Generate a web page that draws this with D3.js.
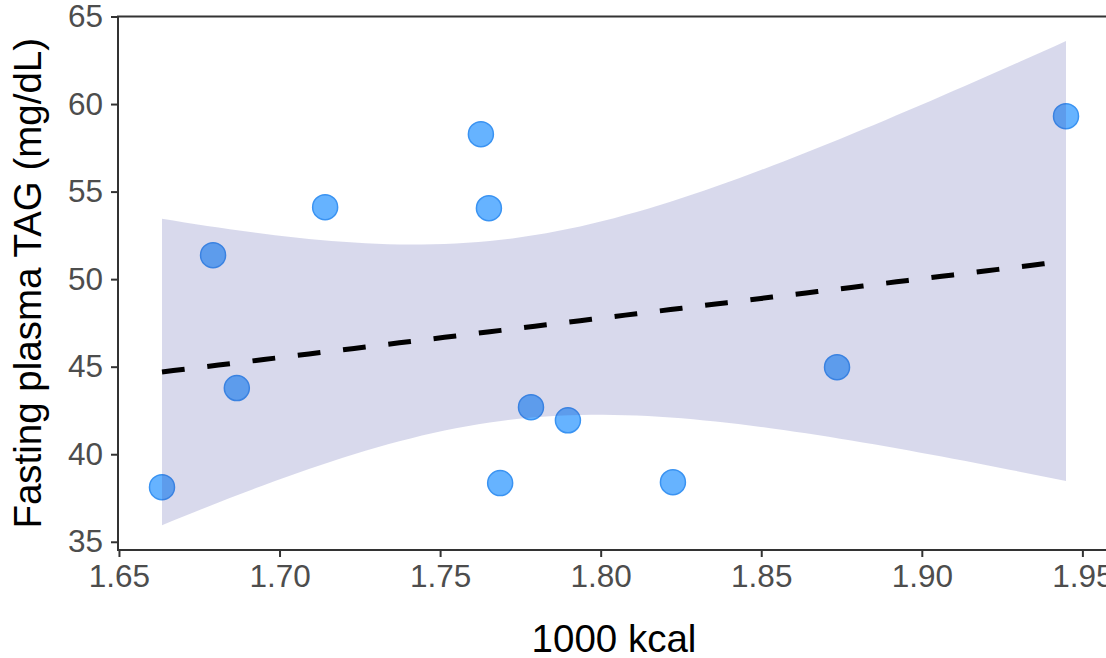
<!DOCTYPE html>
<html>
<head>
<meta charset="utf-8">
<script src="https://cdn.jsdelivr.net/npm/d3@7"></script>
<style>
  html, body { margin: 0; padding: 0; background: #fff; overflow: hidden; }
  svg { display: block; font-family: "Liberation Sans", Arial, Helvetica, sans-serif; }
</style>
</head>
<body>
<script>
/*** Data ***/
kcal = [1.6634, 1.6793, 1.6867, 1.7142, 1.7627, 1.7652, 1.7687, 1.7783, 1.7898, 1.8225, 1.8736, 1.9449]
tag  = [38.12, 51.37, 43.78, 54.11, 58.28, 54.05, 38.35, 42.69, 41.94, 38.40, 44.97, 59.31]

xTicks = [1.65, 1.70, 1.75, 1.80, 1.85, 1.90, 1.95]
yTicks = [35, 40, 45, 50, 55, 60, 65]

xTitle = '1000 kcal'
yTitle = 'Fasting plasma TAG (mg/dL)'

// t quantile 0.975, df = n - 2 = 10
tCrit = 2.228

/*** Linear fit with 95% CI (as geom_smooth(method = "lm")) ***/
function linearFit(xs, ys){
	let n = xs.length
	let mx = d3.mean(xs)
	let my = d3.mean(ys)
	let sxx = d3.sum(xs, x => (x - mx) * (x - mx))
	let sxy = d3.sum(xs.map((x, i) => (x - mx) * (ys[i] - my)))
	let slope = sxy / sxx
	let icpt = my - slope * mx
	let sse = d3.sum(xs.map((x, i) => {
		let r = ys[i] - (icpt + slope * x)
		return r * r
	}))
	let s = Math.sqrt(sse / (n - 2))

	let lo = d3.min(xs), hi = d3.max(xs)
	let grid = d3.range(0, 81).map(k => lo + (hi - lo) * k / 80)

	return grid.map(x => {
		let fit = icpt + slope * x
		let se = s * Math.sqrt(1 / n + (x - mx) * (x - mx) / sxx)
		return { x: x, fit: fit, lower: fit - tCrit * se, upper: fit + tCrit * se }
	})
}

function renderChart(){
	const w = 1106
	const h = 658
	const padL = 118
	const padR = 1110
	const padT = 16.5
	const padB = 550

	const svg = d3.select('body')
		.append('svg')
		.attr('width', w)
		.attr('height', h)

	const xScale = d3.scaleLinear()
		.domain([1.6497, 1.9586])
		.range([padL, padR])

	const yScale = d3.scaleLinear()
		.domain([34.53, 65])
		.range([padB, padT])

	// Axes
	const xAxis = d3.axisBottom(xScale)
		.tickValues(xTicks)
		.tickFormat(d3.format('.2f'))
		.tickSize(7)
		.tickPadding(8)

	const yAxis = d3.axisLeft(yScale)
		.tickValues(yTicks)
		.tickFormat(d3.format('d'))
		.tickSize(7)
		.tickPadding(8)

	const gx = svg.append('g')
		.attr('transform', `translate(0, ${padB})`)
		.call(xAxis)

	const gy = svg.append('g')
		.attr('transform', `translate(${padL}, 0)`)
		.call(yAxis)

	for (const g of [gx, gy]) {
		g.select('.domain').remove()
		g.selectAll('line').attr('stroke', '#333333').attr('stroke-width', 2)
		g.selectAll('text')
			.attr('fill', '#4d4d4d')
			.style('font-size', '31.5px')
			.style('font-family', '"Liberation Sans", Arial, Helvetica, sans-serif')
	}

	// Points
	svg.append('g')
		.selectAll('circle')
		.data(kcal)
		.enter()
			.append('circle')
			.attr('cx', d => xScale(d))
			.attr('cy', (d, i) => yScale(tag[i]))
			.attr('r', 12.5)
			.attr('fill', '#3399ff')
			.attr('fill-opacity', 0.75)
			.attr('stroke', '#3a93f2')
			.attr('stroke-width', 1.5)

	// Smooth
	const band = linearFit(kcal, tag)

	svg.append('path')
		.datum(band)
		.attr('d', d3.area()
			.x(d => xScale(d.x))
			.y0(d => yScale(d.lower))
			.y1(d => yScale(d.upper)))
		.attr('fill', '#3a42a0')
		.attr('fill-opacity', 0.2)

	svg.append('path')
		.datum(band)
		.attr('d', d3.line()
			.x(d => xScale(d.x))
			.y(d => yScale(d.fit)))
		.attr('fill', 'none')
		.attr('stroke', '#000')
		.attr('stroke-width', 5)
		.attr('stroke-dasharray', '22.8,22.8')

	// Panel border
	svg.append('rect')
		.attr('x', padL)
		.attr('y', padT)
		.attr('width', padR - padL)
		.attr('height', padB - padT)
		.attr('fill', 'none')
		.attr('stroke', '#333333')
		.attr('stroke-width', 2)

	// Titles
	svg.append('text')
		.attr('x', (padL + padR) / 2)
		.attr('y', 651.5)
		.attr('text-anchor', 'middle')
		.attr('fill', '#000')
		.style('font-size', '38.5px')
		.text(xTitle)

	svg.append('text')
		.attr('transform', `translate(41, ${(padT + padB) / 2}) rotate(-90)`)
		.attr('text-anchor', 'middle')
		.attr('fill', '#000')
		.style('font-size', '38.5px')
		.text(yTitle)
}

renderChart()
</script>
</body>
</html>
